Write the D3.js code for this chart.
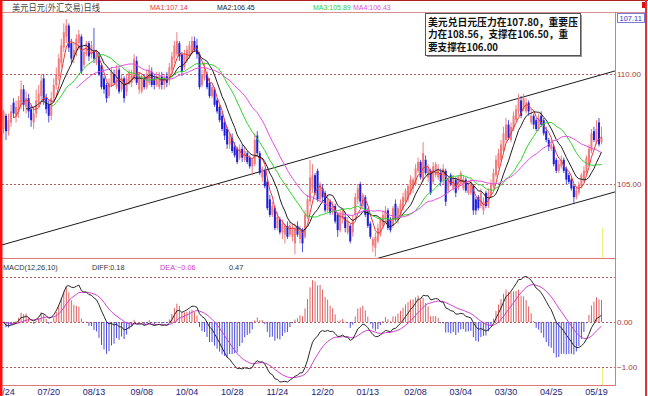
<!DOCTYPE html>
<html>
<head>
<meta charset="utf-8">
<script src="https://cdn.jsdelivr.net/npm/d3@7"></script>
<style>
  body { margin: 0; background: #fff; }
  svg { display: block; }
</style>
</head>
<body>
<svg id="chart" width="648" height="396"></svg>
<script>
// daily candles, USD/JPY
const opens = [
  107.5, 108.1, 107.4, 107.8, 108.7, 108.1, 108.3, 108.6, 109.3, 108.5,
  108.9, 108.4, 107.8, 108.2, 108.7, 109.0, 109.8, 108.9, 108.6, 108.1,
  108.9, 109.5, 109.9, 110.5, 111.2, 111.7, 112.2, 111.4, 110.7, 111.0,
  111.4, 111.7, 110.4, 110.9, 111.4, 110.9, 111.0, 110.5, 110.8, 110.4,
  109.8, 109.5, 109.0, 109.5, 110.0, 109.4, 110.2, 109.3, 109.8, 109.2,
  109.6, 109.6, 109.8, 110.6, 109.3, 109.2, 109.8, 109.4, 109.6, 110.1,
  109.8, 109.5, 109.4, 109.9, 109.5, 109.9, 109.7, 110.2, 110.7, 110.9,
  111.4, 110.9, 110.3, 110.6, 110.8, 111.0, 111.5, 111.3, 110.9, 109.5,
  109.8, 110.0, 109.6, 109.0, 109.3, 108.8, 108.5, 108.1, 107.8, 107.5,
  106.8, 107.1, 106.7, 106.6, 106.2, 106.6, 106.1, 106.4, 106.2, 105.8,
  105.9, 107.2, 106.4, 105.3, 105.6, 105.1, 104.3, 103.6, 103.9, 103.0,
  103.4, 102.8, 102.7, 103.1, 102.7, 102.6, 102.3, 103.1, 102.5, 102.9,
  102.6, 103.5, 104.2, 104.8, 105.4, 105.6, 104.3, 104.8, 104.6, 103.8,
  104.2, 103.7, 104.0, 103.6, 102.9, 103.4, 103.5, 102.8, 103.1, 102.8,
  103.6, 104.3, 105.0, 104.0, 104.4, 103.8, 103.2, 102.2, 102.1, 102.4,
  102.7, 103.1, 103.4, 103.8, 103.4, 103.1, 104.1, 103.4, 103.6, 103.9,
  104.2, 104.3, 104.6, 104.8, 105.0, 105.6, 106.0, 105.2, 106.1, 105.3,
  105.6, 105.1, 105.4, 105.3, 105.5, 105.2, 105.6, 104.7, 105.4, 104.8,
  105.2, 104.8, 105.0, 104.8, 105.2, 104.6, 104.6, 104.9, 104.3, 104.4,
  104.0, 103.8, 104.6, 104.0, 104.5, 104.9, 105.4, 105.8, 106.1, 106.5,
  107.0, 107.7, 107.0, 107.5, 107.9, 108.3, 108.8, 108.4, 108.3, 108.7,
  107.8, 108.1, 107.9, 107.5, 108.1, 107.9, 107.4, 107.0, 106.6, 106.7,
  106.1, 105.6, 105.8, 106.1, 105.7, 105.4, 105.2, 104.9, 104.4, 104.6,
  104.9, 105.2, 105.5, 105.9, 106.5, 107.4, 106.9, 107.8, 106.9
];
const highs = [
  108.4, 108.2, 108.2, 108.6, 108.9, 108.8, 109.0, 109.7, 109.5, 109.2,
  109.1, 108.6, 108.5, 109.3, 109.5, 110.0, 110.0, 109.1, 108.8, 109.2,
  109.8, 110.3, 110.9, 111.6, 112.3, 112.5, 112.3, 111.6, 111.4, 111.8,
  112.0, 111.8, 111.2, 111.5, 111.5, 111.5, 112.1, 111.1, 111.0, 110.5,
  109.9, 109.6, 109.8, 110.3, 110.2, 110.4, 110.3, 110.0, 109.9, 110.0,
  110.2, 110.2, 110.9, 110.8, 110.1, 110.0, 110.0, 110.2, 110.4, 110.3,
  110.0, 110.1, 110.1, 110.1, 110.0, 110.1, 110.5, 111.0, 111.5, 111.9,
  111.5, 111.0, 111.1, 111.3, 111.5, 111.7, 111.7, 111.6, 111.0, 110.2,
  110.5, 110.1, 109.8, 109.5, 109.4, 108.9, 108.6, 108.3, 107.9, 107.6,
  107.3, 107.3, 106.9, 106.7, 106.8, 106.8, 106.7, 106.5, 106.3, 106.2,
  107.3, 107.4, 106.5, 105.8, 105.7, 105.2, 104.5, 104.2, 104.0, 103.7,
  103.5, 103.4, 103.2, 103.3, 103.3, 103.2, 103.2, 103.3, 103.1, 103.0,
  103.8, 104.5, 106.1, 105.9, 105.5, 105.7, 105.1, 105.0, 104.7, 104.5,
  104.3, 104.2, 104.1, 103.7, 103.8, 103.9, 103.7, 103.5, 103.2, 103.6,
  104.6, 105.0, 105.1, 104.6, 104.5, 103.9, 103.3, 102.6, 102.8, 103.2,
  103.5, 103.8, 104.0, 103.9, 103.5, 104.0, 104.3, 104.0, 104.3, 104.6,
  104.8, 105.0, 105.4, 105.3, 105.9, 106.2, 106.1, 106.9, 106.3, 105.9,
  105.7, 106.0, 106.0, 105.9, 105.7, 105.9, 105.7, 105.3, 105.5, 105.4,
  105.3, 105.4, 105.6, 105.4, 105.3, 105.1, 105.2, 105.0, 104.4, 104.5,
  104.8, 104.4, 104.7, 104.8, 105.2, 105.7, 106.3, 106.6, 107.0, 107.6,
  108.0, 107.9, 107.8, 108.3, 108.6, 109.1, 109.0, 109.1, 108.9, 108.8,
  108.4, 108.2, 108.0, 108.2, 108.3, 108.0, 107.6, 107.1, 107.0, 106.8,
  106.2, 106.1, 106.3, 106.2, 105.8, 105.5, 105.3, 105.0, 104.9, 105.1,
  105.5, 105.8, 106.3, 106.8, 107.5, 107.6, 107.9, 108.0, 107.6
];
const lows = [
  107.3, 107.0, 107.2, 107.6, 108.0, 107.8, 108.0, 108.4, 108.3, 108.2,
  108.0, 107.6, 107.5, 108.0, 108.5, 108.8, 108.6, 108.2, 107.8, 107.9,
  108.7, 109.3, 109.7, 110.3, 111.0, 111.4, 111.0, 110.5, 110.5, 110.8,
  111.1, 110.0, 110.3, 110.8, 110.6, 110.7, 110.5, 110.4, 109.9, 109.3,
  109.1, 108.7, 108.9, 109.4, 109.5, 109.3, 109.1, 109.2, 108.7, 109.0,
  109.5, 109.4, 109.7, 109.5, 109.1, 109.1, 109.3, 109.3, 109.5, 109.4,
  109.3, 109.4, 109.3, 109.3, 109.3, 109.4, 109.5, 110.0, 110.5, 110.8,
  110.6, 109.9, 110.2, 110.5, 110.7, 110.9, 111.0, 110.7, 109.3, 109.4,
  109.7, 109.3, 108.9, 108.9, 108.5, 108.2, 107.8, 107.4, 107.0, 106.6,
  106.6, 106.4, 106.2, 105.9, 106.1, 106.0, 106.0, 105.9, 105.7, 105.4,
  105.8, 106.3, 105.4, 105.1, 104.8, 103.8, 103.5, 103.5, 102.9, 102.9,
  102.7, 102.5, 102.3, 102.5, 102.6, 102.4, 101.8, 102.6, 102.3, 101.9,
  102.5, 103.4, 104.0, 104.6, 104.5, 104.2, 104.2, 104.2, 103.7, 103.7,
  103.6, 103.6, 103.2, 102.6, 102.8, 103.2, 102.8, 102.7, 102.3, 102.6,
  103.4, 104.1, 104.0, 103.9, 103.5, 103.0, 102.5, 101.9, 101.7, 102.3,
  102.6, 103.0, 103.3, 102.9, 102.8, 103.0, 103.3, 103.2, 103.5, 103.8,
  104.1, 104.2, 104.5, 104.6, 104.9, 105.5, 105.2, 105.1, 105.4, 105.1,
  104.5, 105.0, 105.3, 105.2, 104.9, 105.0, 104.0, 104.6, 104.9, 104.7,
  104.4, 104.7, 104.9, 104.7, 104.6, 104.5, 104.5, 103.6, 103.6, 103.8,
  103.9, 103.6, 103.9, 103.9, 104.4, 104.8, 105.3, 105.7, 106.0, 106.4,
  106.9, 107.0, 106.9, 107.4, 107.8, 108.1, 108.0, 108.3, 108.2, 108.1,
  107.7, 107.5, 107.4, 107.4, 107.6, 107.2, 106.9, 106.5, 106.5, 105.8,
  105.5, 105.5, 105.7, 105.5, 105.0, 105.0, 104.7, 104.1, 104.3, 104.5,
  104.8, 105.1, 105.4, 105.8, 106.4, 106.9, 106.8, 106.7, 106.8
];
const closes = [
  108.3, 107.4, 107.9, 108.3, 108.2, 108.5, 108.8, 109.3, 108.6, 108.9,
  108.3, 107.9, 108.2, 108.8, 109.1, 109.7, 108.8, 108.4, 108.1, 108.9,
  109.5, 110.0, 110.7, 111.3, 111.9, 112.2, 111.2, 110.7, 111.1, 111.6,
  111.8, 110.1, 111.0, 111.4, 110.8, 111.3, 110.7, 110.9, 110.0, 109.4,
  109.3, 108.9, 109.6, 110.1, 109.6, 110.2, 109.2, 109.8, 108.9, 109.8,
  110.1, 110.0, 110.7, 109.6, 109.9, 109.9, 109.4, 110.0, 110.2, 109.5,
  109.5, 109.9, 109.9, 109.5, 109.8, 109.6, 110.3, 110.8, 111.3, 111.5,
  110.8, 110.1, 110.9, 111.1, 111.3, 111.5, 111.1, 110.9, 109.4, 110.0,
  110.2, 109.4, 109.0, 109.4, 108.6, 108.3, 107.9, 107.5, 107.2, 106.8,
  107.2, 106.5, 106.3, 106.0, 106.6, 106.2, 106.5, 106.0, 105.8, 106.1,
  107.0, 106.4, 105.5, 105.7, 104.9, 103.9, 103.6, 104.0, 103.0, 103.5,
  102.8, 103.2, 103.1, 102.6, 103.1, 103.0, 103.0, 102.7, 102.9, 102.3,
  103.6, 104.3, 105.3, 105.4, 104.6, 104.3, 105.0, 104.4, 103.8, 104.3,
  103.7, 104.0, 103.3, 102.9, 103.6, 103.8, 103.0, 103.3, 102.4, 103.4,
  104.4, 104.8, 104.2, 104.5, 103.6, 103.1, 102.6, 102.5, 102.6, 103.0,
  103.4, 103.6, 103.8, 103.0, 102.9, 103.9, 103.4, 103.9, 104.1, 104.4,
  104.7, 104.9, 105.2, 105.2, 105.7, 106.0, 105.3, 106.4, 105.5, 105.7,
  104.6, 105.8, 105.9, 105.7, 105.1, 105.7, 104.2, 105.2, 105.0, 105.3,
  104.6, 105.3, 105.5, 105.2, 104.7, 105.0, 105.0, 103.8, 103.8, 103.9,
  104.6, 104.2, 104.0, 104.6, 105.0, 105.5, 106.1, 106.4, 106.8, 107.3,
  107.7, 107.1, 107.6, 108.1, 108.4, 108.9, 108.1, 108.9, 108.7, 108.3,
  108.1, 107.7, 107.5, 108.0, 107.7, 107.3, 107.0, 106.7, 106.8, 105.9,
  105.6, 105.9, 106.1, 105.6, 105.2, 105.1, 104.8, 104.4, 104.7, 105.0,
  105.4, 105.6, 106.2, 106.6, 107.3, 107.0, 107.5, 106.8, 107.11
];

// axis labels
const dateLabels = ["06/24", "07/20", "08/13", "09/08", "10/04", "10/28", "11/24",
                    "12/20", "01/13", "02/08", "03/04", "03/30", "04/25", "05/19"];
const dateLabelBars = [0, 18, 36, 55, 73, 91, 109, 127, 145, 164, 182, 200, 218, 236];
const priceTicks = [110, 105];
const macdGrid = [1, 0, -1];
const macdTicks = [0, -1];

// moving averages
const maNames = ["MA1", "MA2", "MA3", "MA4"];
const maPeriods = [5, 10, 20, 30];
const maColors = ["#e83838", "#202020", "#30d030", "#e050e0"];

// MACD header readings: DIFF, DEA, MACD
const macdHeaderValues = [0.18, -0.06, 0.47];

// trend channel drawn by hand on the chart (bar index, price)
const channelUpper = [[-0.6, 102.23], [243.4, 110.14]];
const channelLower = [[146.7, 101.55], [243.4, 104.64]];

const noteLines = ["美元兑日元压力在107.80，重要压", "力在108.56，支撑在106.50，重", "要支撑在106.00"];
const noteWidths = [150, 140, 70];

const svg = d3.select("#chart");
const font = "Liberation Sans, Arial, sans-serif";

const left = 2, right = 615;
const mainTop = 13, mainBottom = 258;
const macdTop = 259, macdBottom = 386;

const x = d3.scaleLinear().domain([0, closes.length - 1]).range([3.5, 601.5]);
const y = d3.scaleLinear().domain([105, 110]).range([184, 74]);
const ym = d3.scaleLinear().domain([-1, 0]).range([367, 322]);

// clip areas
const defs = svg.append("defs");
defs.append("clipPath").attr("id", "clipMain")
  .append("rect").attr("x", left).attr("y", mainTop).attr("width", right - left).attr("height", mainBottom - mainTop);
defs.append("clipPath").attr("id", "clipMacd")
  .append("rect").attr("x", left).attr("y", macdTop).attr("width", right - left).attr("height", macdBottom - macdTop);

// moving averages
function sma(arr, n) {
  return arr.map((d, i) => {
    if (i < n - 1) return null;
    let s = 0;
    for (let k = i - n + 1; k <= i; k++) s += arr[k];
    return s / n;
  });
}
const maSeries = maPeriods.map(n => sma(closes, n));

// MACD(12,26,10)
const ema12 = [], ema26 = [], diff = [], dea = [], bar = [];
closes.forEach((c, i) => {
  ema12.push(i === 0 ? c : (2 * c + 11 * ema12[i - 1]) / 13);
  ema26.push(i === 0 ? c : (2 * c + 25 * ema26[i - 1]) / 27);
  diff.push(ema12[i] - ema26[i]);
  dea.push(i === 0 ? diff[0] : (2 * diff[i] + 9 * dea[i - 1]) / 11);
  bar.push(2 * (diff[i] - dea[i]));
});

// ---- main panel ----
const main = svg.append("g").attr("clip-path", "url(#clipMain)");

main.selectAll("line.grid")
  .data(priceTicks).enter().append("line")
  .attr("class", "grid")
  .attr("x1", left).attr("x2", right)
  .attr("y1", d => Math.round(y(d)) + 0.5).attr("y2", d => Math.round(y(d)) + 0.5)
  .attr("stroke", "#c05a5a").attr("stroke-dasharray", "2,2");

// channel
[channelUpper, channelLower].forEach(seg => {
  main.append("line")
    .attr("x1", x(seg[0][0])).attr("y1", y(seg[0][1]))
    .attr("x2", x(seg[1][0])).attr("y2", y(seg[1][1]))
    .attr("stroke", "#1a1a1a").attr("stroke-width", 1);
});

const idx = d3.range(closes.length);
const up = i => closes[i] >= opens[i];

main.selectAll("line.wick")
  .data(idx).enter().append("line")
  .attr("class", "wick")
  .attr("x1", i => x(i)).attr("x2", i => x(i))
  .attr("y1", i => y(highs[i])).attr("y2", i => y(lows[i]))
  .attr("stroke", i => up(i) ? "#e86060" : "#2828d8")
  .attr("stroke-width", 0.8);

main.selectAll("rect.body")
  .data(idx).enter().append("rect")
  .attr("class", "body")
  .attr("x", i => x(i) - 1)
  .attr("width", 2)
  .attr("y", i => y(Math.max(opens[i], closes[i])))
  .attr("height", i => Math.max(1, Math.abs(y(opens[i]) - y(closes[i]))))
  .attr("fill", i => up(i) ? "#f07c7c" : "#1e1ed8");

const maLine = d3.line()
  .defined(d => d != null)
  .x((d, i) => x(i))
  .y(d => y(d));

maSeries.forEach((s, k) => {
  main.append("path")
    .datum(s)
    .attr("d", maLine)
    .attr("fill", "none")
    .attr("stroke", maColors[k])
    .attr("stroke-width", 1);
});

// current bar marker
const lastX = Math.round(x(closes.length - 1)) + 0.5;
svg.append("line").attr("x1", lastX).attr("x2", lastX).attr("y1", 228).attr("y2", mainBottom)
  .attr("stroke", "#f2f27a").attr("stroke-width", 1);

// ---- MACD panel ----
const macd = svg.append("g").attr("clip-path", "url(#clipMacd)");

macd.selectAll("line.grid")
  .data(macdGrid).enter().append("line")
  .attr("class", "grid")
  .attr("x1", left).attr("x2", right)
  .attr("y1", d => Math.round(ym(d)) + 0.5).attr("y2", d => Math.round(ym(d)) + 0.5)
  .attr("stroke", "#c05a5a").attr("stroke-dasharray", "2,2");

macd.selectAll("line.hist")
  .data(idx).enter().append("line")
  .attr("class", "hist")
  .attr("x1", i => x(i)).attr("x2", i => x(i))
  .attr("y1", ym(0)).attr("y2", i => ym(bar[i]))
  .attr("stroke", i => bar[i] >= 0 ? "#e06060" : "#4a4ae0")
  .attr("stroke-width", 1);

const macdLine = d3.line().x((d, i) => x(i)).y(d => ym(d));
macd.append("path").datum(dea).attr("d", macdLine)
  .attr("fill", "none").attr("stroke", "#d040d0").attr("stroke-width", 1);
macd.append("path").datum(diff).attr("d", macdLine)
  .attr("fill", "none").attr("stroke", "#2a2a2a").attr("stroke-width", 1);

svg.append("line").attr("x1", lastX).attr("x2", lastX).attr("y1", 368).attr("y2", macdBottom)
  .attr("stroke", "#f2f27a").attr("stroke-width", 1);

// ---- frames ----
const frame = "#e07a7a";
svg.append("line").attr("x1", 0).attr("x2", 648).attr("y1", 0.5).attr("y2", 0.5).attr("stroke", "#b02020");
svg.append("line").attr("x1", left).attr("x2", 645).attr("y1", 12.5).attr("y2", 12.5).attr("stroke", "#d89090");
svg.append("line").attr("x1", left).attr("x2", right).attr("y1", mainBottom + 0.5).attr("y2", mainBottom + 0.5).attr("stroke", frame);
svg.append("line").attr("x1", left).attr("x2", right).attr("y1", macdBottom - 0.5).attr("y2", macdBottom - 0.5).attr("stroke", frame);
svg.append("line").attr("x1", right + 0.5).attr("x2", right + 0.5).attr("y1", 12).attr("y2", macdBottom).attr("stroke", frame);
svg.append("rect").attr("x", 642).attr("y", 2).attr("width", 5).attr("height", 6).attr("fill", "#e01010");

// price axis
svg.selectAll("text.ptick")
  .data(priceTicks).enter().append("text")
  .attr("class", "ptick")
  .attr("x", 617).attr("y", d => y(d) + 3)
  .attr("font-family", font).attr("font-size", 8)
  .attr("fill", "#a83a3a")
  .text(d => d3.format(".2f")(d));

svg.selectAll("text.mtick")
  .data(macdTicks).enter().append("text")
  .attr("class", "mtick")
  .attr("x", 617).attr("y", d => ym(d) + 3)
  .attr("font-family", font).attr("font-size", 8)
  .attr("fill", "#a83a3a")
  .text(d => d3.format(".2f")(d));

// last price box
svg.append("rect").attr("x", 617.5).attr("y", 13.5).attr("width", 27).attr("height", 9)
  .attr("fill", "#fff").attr("stroke", "#7a7ad8");
svg.append("text").attr("x", 619.5).attr("y", 21)
  .attr("font-family", font).attr("font-size", 7.5)
  .attr("fill", "#3a3ac0")
  .text(d3.format(".2f")(closes[closes.length - 1]));

// date axis
svg.selectAll("text.date")
  .data(dateLabels).enter().append("text")
  .attr("class", "date")
  .attr("x", (d, k) => x(dateLabelBars[k]))
  .attr("y", 395)
  .attr("text-anchor", "middle")
  .attr("font-family", font).attr("font-size", 9)
  .attr("fill", "#24247a")
  .text(d => d);

// header
svg.append("text").attr("x", 12).attr("y", 10.5)
  .attr("font-family", "Noto Sans CJK SC, sans-serif").attr("font-size", 9)
  .attr("textLength", 88).attr("lengthAdjust", "spacingAndGlyphs")
  .attr("fill", "#444").text("美元日元(外汇交易)日线");

const maLast = maSeries.map(s => s[s.length - 1]);
const maX = [150, 217, 313, 353];
maNames.forEach((n, k) => {
  svg.append("text").attr("x", maX[k]).attr("y", 9.5)
    .attr("font-family", font).attr("font-size", 7)
    .attr("fill", maColors[k])
    .text(n + ":" + d3.format(".2f")(maLast[k]));
});

// MACD header
const fmt = d3.format(".2f");
const mh = [
  { t: "MACD(12,26,10)", x: 3, c: "#333" },
  { t: "DIFF:" + fmt(macdHeaderValues[0]), x: 92, c: "#333" },
  { t: "DEA:" + fmt(macdHeaderValues[1]), x: 160, c: "#d040d0" },
  { t: fmt(macdHeaderValues[2]), x: 229, c: "#333" }
];
svg.selectAll("text.mh").data(mh).enter().append("text")
  .attr("class", "mh")
  .attr("x", d => d.x).attr("y", 270)
  .attr("font-family", font).attr("font-size", 7.3)
  .attr("fill", d => d.c)
  .text(d => d.t);

// note box
svg.append("rect").attr("x", 425.5).attr("y", 13.5).attr("width", 155).attr("height", 42)
  .attr("fill", "#fff").attr("stroke", "#555");
svg.append("line").attr("x1", 581.5).attr("x2", 581.5).attr("y1", 15).attr("y2", 57).attr("stroke", "#999");
svg.append("line").attr("x1", 427).attr("x2", 582).attr("y1", 56.5).attr("y2", 56.5).attr("stroke", "#999");
svg.selectAll("text.note").data(noteLines).enter().append("text")
  .attr("class", "note")
  .attr("x", 428).attr("y", (d, k) => 25.5 + k * 12.5)
  .attr("font-family", "Noto Sans CJK SC, sans-serif").attr("font-size", 10)
  .attr("font-weight", "bold")
  .attr("textLength", (d, k) => noteWidths[k]).attr("lengthAdjust", "spacingAndGlyphs")
  .attr("fill", "#111")
  .text(d => d);

// side bars
svg.append("rect").attr("x", 0).attr("y", 0).attr("width", 2.5).attr("height", 396).attr("fill", "#ff1010");
svg.append("rect").attr("x", 645).attr("y", 0).attr("width", 2).attr("height", 396).attr("fill", "#e83030");
</script>
</body>
</html>
